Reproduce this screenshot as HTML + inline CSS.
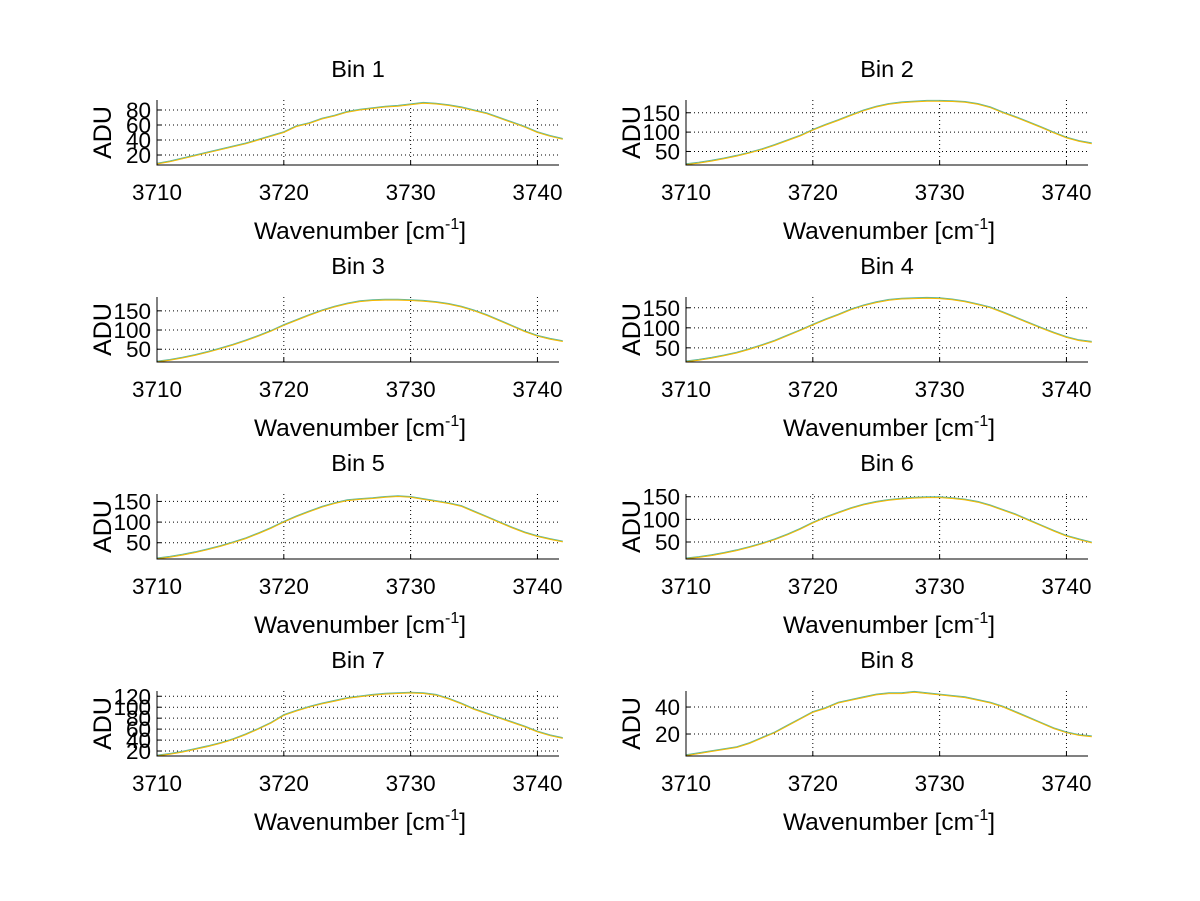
<!DOCTYPE html>
<html><head><meta charset="utf-8">
<style>
html,body{margin:0;padding:0;background:#fff;}
svg{display:block;font-family:"Liberation Sans",Arial,sans-serif;}
</style></head>
<body>
<svg id="fig" width="1200" height="901" viewBox="0 0 1200 901"></svg>
<script>
const wavenumbers=[3710,3711,3712,3713,3714,3715,3716,3717,3718,3719,3720,3721,3722,3723,3724,3725,3726,3727,3728,3729,3730,3731,3732,3733,3734,3735,3736,3737,3738,3739,3740,3741,3742];
const bin1=[8,11,15,19,23,27,31,35,40,45,50,58,62,68,72,77,80,82,84,85,87,89,88,86,83,79,75,69,63,57,50,45,41];
const bin2=[16,20,25,31,38,46,55,66,78,90,105,118,130,143,155,165,172,176,178,180,180,179,177,172,163,150,138,125,112,98,85,76,70];
const bin3=[17,21,27,34,42,51,61,72,84,97,112,125,138,150,160,168,174,177,178,178,177,175,172,167,160,150,138,124,110,96,84,76,70];
const bin4=[15,19,24,30,37,46,56,67,80,93,107,120,132,145,155,163,169,172,173,174,173,170,165,158,150,138,125,112,99,87,76,68,64];
const bin5=[11,15,20,26,33,41,50,60,72,85,100,113,125,136,145,152,155,157,160,162,160,155,150,145,138,125,112,99,86,74,65,58,52];
const bin6=[13,16,20,25,31,38,46,55,66,78,92,104,114,124,132,138,142,145,147,148,148,146,143,138,130,120,110,98,86,74,63,55,48];
const bin7=[11,14,18,23,28,34,41,50,60,71,85,93,100,106,111,116,119,122,124,125,126,125,122,115,106,96,88,80,72,64,55,48,43];
const bin8=[4,5.5,7,8.5,10,13,17,21,26,31,36,39,43,45,47,49,50,50,51,50,49,48,47,45,43,40,36,32,28,24,21,19,18];
const xTicks=[3710,3720,3730,3740];
const yTicks1=[20,40,60,80];
const yTicks2=[50,100,150];
const yTicks7=[20,40,60,80,100,120];
const yTicks8=[20,40];

const NS="http://www.w3.org/2000/svg";
const svg=document.getElementById('fig');
function mk(tag,attrs,parent){const e=document.createElementNS(NS,tag);for(const k in attrs)e.setAttribute(k,attrs[k]);(parent||svg).appendChild(e);return e;}

const panels=[
 {title:"Bin 1",data:bin1,yl:[6.7,93.3],yt:yTicks1,col:0,row:0},
 {title:"Bin 2",data:bin2,yl:[15,183],yt:yTicks2,col:1,row:0},
 {title:"Bin 3",data:bin3,yl:[16.7,186],yt:yTicks2,col:0,row:1},
 {title:"Bin 4",data:bin4,yl:[14.6,177],yt:yTicks2,col:1,row:1},
 {title:"Bin 5",data:bin5,yl:[10.6,168],yt:yTicks2,col:0,row:2},
 {title:"Bin 6",data:bin6,yl:[12.5,156],yt:yTicks2,col:1,row:2},
 {title:"Bin 7",data:bin7,yl:[10.9,129.6],yt:yTicks7,col:0,row:3},
 {title:"Bin 8",data:bin8,yl:[3.7,51.9],yt:yTicks8,col:1,row:3}
];
const colL=[157,686], W=402;
const rowT=[100,297,494,691], H=65;
const xl=[3710,3741.7];

panels.forEach((p,i)=>{
  const L=colL[p.col], T=rowT[p.row], B=T+H, R=L+W;
  const xs=v=>L+(v-xl[0])/(xl[1]-xl[0])*W;
  const ys=v=>B-(v-p.yl[0])/(p.yl[1]-p.yl[0])*H;
  const g=mk('g',{});
  
  
  xTicks.forEach(t=>{const x=xs(t);if(x>L+1){const l=mk('line',{x1:x,x2:x,y1:T,y2:B,stroke:'#000','stroke-width':1,'stroke-dasharray':'1,3'},g);
    }
    mk('line',{x1:x,x2:x,y1:B,y2:B-4,stroke:'#000'},g);
    const tx=mk('text',{x:x,y:B+35,'text-anchor':'middle','font-size':22.5},g);tx.textContent=t;
    });
  p.yt.forEach(t=>{const y=ys(t);
    const l=mk('line',{x1:L,x2:R,y1:y,y2:y,stroke:'#000','stroke-width':1,'stroke-dasharray':'1,3'},g);
    
    mk('line',{x1:L,x2:L+4,y1:y,y2:y,stroke:'#000'},g);
    const tx=mk('text',{x:L-6,y:y+8,'text-anchor':'end','font-size':22.5},g);tx.textContent=t;
    });
  const pts=wavenumbers.map((w,k)=>xs(w).toFixed(1)+','+ys(p.data[k]).toFixed(1)).join(' ');
  const sh=mk('polyline',{points:pts,fill:'none',stroke:'#5fb89a','stroke-width':1,transform:'translate(0,-0.8)'},g);
  
  const pl=mk('polyline',{points:pts,fill:'none',stroke:'#f5b800','stroke-width':1},g);
  
  const ax=mk('path',{d:`M${L},${T} L${L},${B} L${R},${B}`,fill:'none',stroke:'#000','stroke-width':1},g);
  
  const ti=mk('text',{x:(L+R)/2,y:T-23,'text-anchor':'middle','font-size':23.5},g);ti.textContent=p.title;
  
  const xlab=mk('text',{x:(L+R)/2+2,y:B+74,'text-anchor':'middle','font-size':24.5},g);
  
  xlab.appendChild(document.createTextNode('Wavenumber [cm'));
  const sup=mk('tspan',{'font-size':16,dy:-10},xlab);sup.textContent='-1';
  const cl=mk('tspan',{'font-size':24.5,dy:10},xlab);cl.textContent=']';
  const yl=mk('text',{x:0,y:0,'text-anchor':'middle','font-size':25,transform:`translate(${L-46},${(T+B)/2}) rotate(-90)`},g);
  yl.textContent='ADU';
  
});
</script>
</body></html>
